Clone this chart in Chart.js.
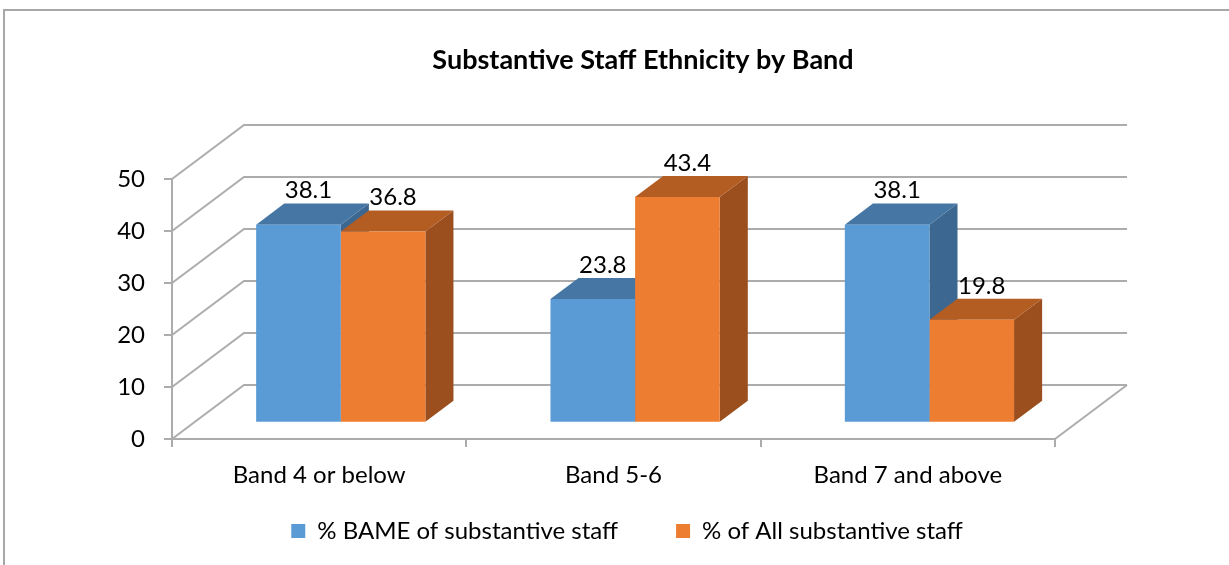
<!DOCTYPE html>
<html>
<head>
<meta charset="utf-8">
<title>Substantive Staff Ethnicity by Band</title>
<script src="https://cdn.jsdelivr.net/npm/chart.js@4.4.0/dist/chart.umd.min.js"></script>
<style>
    html, body { margin: 0; padding: 0; background: #fff; overflow: hidden; }
    #frame {
        position: absolute; left: 3px; top: 9px; width: 1400px; height: 700px;
        border-top: 2px solid #a8a8a8; border-left: 2px solid #a8a8a8;
    }
    #chart { position: absolute; left: 0; top: 0; }
</style>
</head>
<body>
<div id="frame"></div>
<canvas id="chart" width="1229" height="565"></canvas>
<script>
// data
const bands = ['Band 4 or below', 'Band 5-6', 'Band 7 and above'];
const bamePct = [38.1, 23.8, 38.1];
const allPct = [36.8, 43.4, 19.8];
const seriesNames = ['% BAME of substantive staff', '% of All substantive staff'];
const yTickValues = [0, 10, 20, 30, 40, 50];

// 3D box look (Excel style clustered 3D column)
const DEPTH_X = 72, DEPTH_Y = -54;     // offset from front floor edge to back wall
const BAR_FRONT = 0.3;                 // where the bar front faces sit in the depth
const BAR_DEPTH = 0.39;                // how deep each bar is
const GRID = '#acacac';
const FONT = 'Lato, "Open Sans", sans-serif';
const LEGEND_PAD = 58;

Chart.defaults.font.family = FONT;
Chart.defaults.color = '#000';

const box3d = {
    id: 'box3d',
    afterLayout(chart) {
        // Excel centres the title / legend on a wider chart object
        const t = chart.titleBlock, lg = chart.legend;
        if (t) { const d = 643 - (t.left + t.right) / 2; t.left += d; t.right += d; }
        if (lg) {
            const d = 627 - (lg.left + lg.right) / 2;
            lg.left += d; lg.right += d;
            // the big item gap also pads vertically, so place the box by hand
            lg.top = 531 - LEGEND_PAD - 12;
            lg.bottom = lg.top + 120;
            lg.height = 120;
        }
    },
    beforeDatasetsDraw(chart) {
        const { ctx, chartArea: a, scales: { y } } = chart;

        // back wall + side wall + floor
        ctx.save();
        ctx.strokeStyle = GRID;
        ctx.lineWidth = 2;
        ctx.beginPath();
        y.ticks.forEach(t => {
            const py = y.getPixelForValue(t.value);
            ctx.moveTo(a.left, py);
            ctx.lineTo(a.left + DEPTH_X, py + DEPTH_Y);
            ctx.lineTo(a.right + DEPTH_X, py + DEPTH_Y);
        });
        ctx.moveTo(a.right, a.bottom);
        ctx.lineTo(a.right + DEPTH_X, a.bottom + DEPTH_Y);
        ctx.stroke();
        ctx.restore();

        // tops and sides of the bars
        const ox = DEPTH_X * BAR_FRONT, oy = DEPTH_Y * BAR_FRONT;
        const dx = DEPTH_X * BAR_DEPTH, dy = DEPTH_Y * BAR_DEPTH;
        ctx.save();
        ctx.translate(ox, oy);
        for (let g = 0; g < bands.length; g++) {
            chart.data.datasets.forEach((ds, i) => {
                const bar = chart.getDatasetMeta(i).data[g];
                if (!bar) return;
                const l = bar.x - bar.width / 2, r = bar.x + bar.width / 2;
                const top = bar.y, base = bar.base;

                ctx.fillStyle = ds.sideColor;
                ctx.beginPath();
                ctx.moveTo(r, top);
                ctx.lineTo(r + dx, top + dy);
                ctx.lineTo(r + dx, base + dy);
                ctx.lineTo(r, base);
                ctx.closePath();
                ctx.fill();

                ctx.fillStyle = ds.topColor;
                ctx.beginPath();
                ctx.moveTo(l, top);
                ctx.lineTo(l + dx, top + dy);
                ctx.lineTo(r + dx, top + dy);
                ctx.lineTo(r, top);
                ctx.closePath();
                ctx.fill();
            });
        }
        ctx.restore();

        // front faces get drawn by Chart.js, pushed back into the box
        ctx.save();
        ctx.translate(ox, oy);
    },
    afterDatasetsDraw(chart) {
        const { ctx } = chart;
        ctx.restore();

        const ox = DEPTH_X * BAR_FRONT, oy = DEPTH_Y * BAR_FRONT;
        const dy = DEPTH_Y * BAR_DEPTH;
        ctx.save();
        ctx.font = '24px ' + FONT;
        ctx.fillStyle = '#000';
        ctx.textAlign = 'center';
        ctx.textBaseline = 'middle';
        chart.data.datasets.forEach((ds, i) => {
            chart.getDatasetMeta(i).data.forEach((bar, j) => {
                ctx.fillText(ds.data[j].toFixed(1), bar.x + ox + 10, bar.y + oy + dy - 13);
            });
        });
        ctx.restore();
    }
};

new Chart(document.getElementById('chart'), {
    type: 'bar',
    data: {
        labels: bands,
        datasets: [
            {
                label: seriesNames[0],
                data: bamePct,
                backgroundColor: '#5b9bd5',
                topColor: '#4677a4',
                sideColor: '#3c6790',
                borderWidth: 0,
                clip: false
            },
            {
                label: seriesNames[1],
                data: allPct,
                backgroundColor: '#ed7d31',
                topColor: '#b45d23',
                sideColor: '#9b4f1e',
                borderWidth: 0,
                clip: false
            }
        ]
    },
    options: {
        responsive: false,
        animation: false,
        categoryPercentage: 0.575,
        barPercentage: 1,
        layout: { padding: { left: 100, right: 174, top: 0, bottom: 14 } },
        plugins: {
            title: {
                display: true,
                text: 'Substantive Staff Ethnicity by Band',
                font: { size: 27, weight: 'bold' },
                color: '#000',
                padding: { top: 43.8, bottom: 102.8 }
            },
            legend: {
                position: 'bottom',
                maxHeight: 60,
                labels: {
                    boxWidth: 14,
                    boxHeight: 14,
                    padding: LEGEND_PAD,
                    font: { size: 24 },
                    color: '#000'
                }
            },
            tooltip: { enabled: false }
        },
        scales: {
            x: {
                grid: {
                    offset: true,
                    drawOnChartArea: false,
                    tickLength: 8,
                    color: GRID,
                    lineWidth: 2
                },
                border: { display: true, color: GRID, width: 2 },
                ticks: { font: { size: 24 }, padding: 14, color: '#000' },
                afterFit(scale) { scale.height = 52; }
            },
            y: {
                min: 0,
                max: 50,
                afterBuildTicks(scale) { scale.ticks = yTickValues.map(v => ({ value: v })); },
                grid: {
                    drawOnChartArea: false,
                    tickLength: 8,
                    color: GRID,
                    lineWidth: 2
                },
                border: { display: true, color: GRID, width: 2 },
                ticks: { font: { size: 24 }, padding: 19, color: '#000' },
                afterFit(scale) { scale.width = 72; }
            }
        }
    },
    plugins: [box3d]
});
</script>
</body>
</html>
